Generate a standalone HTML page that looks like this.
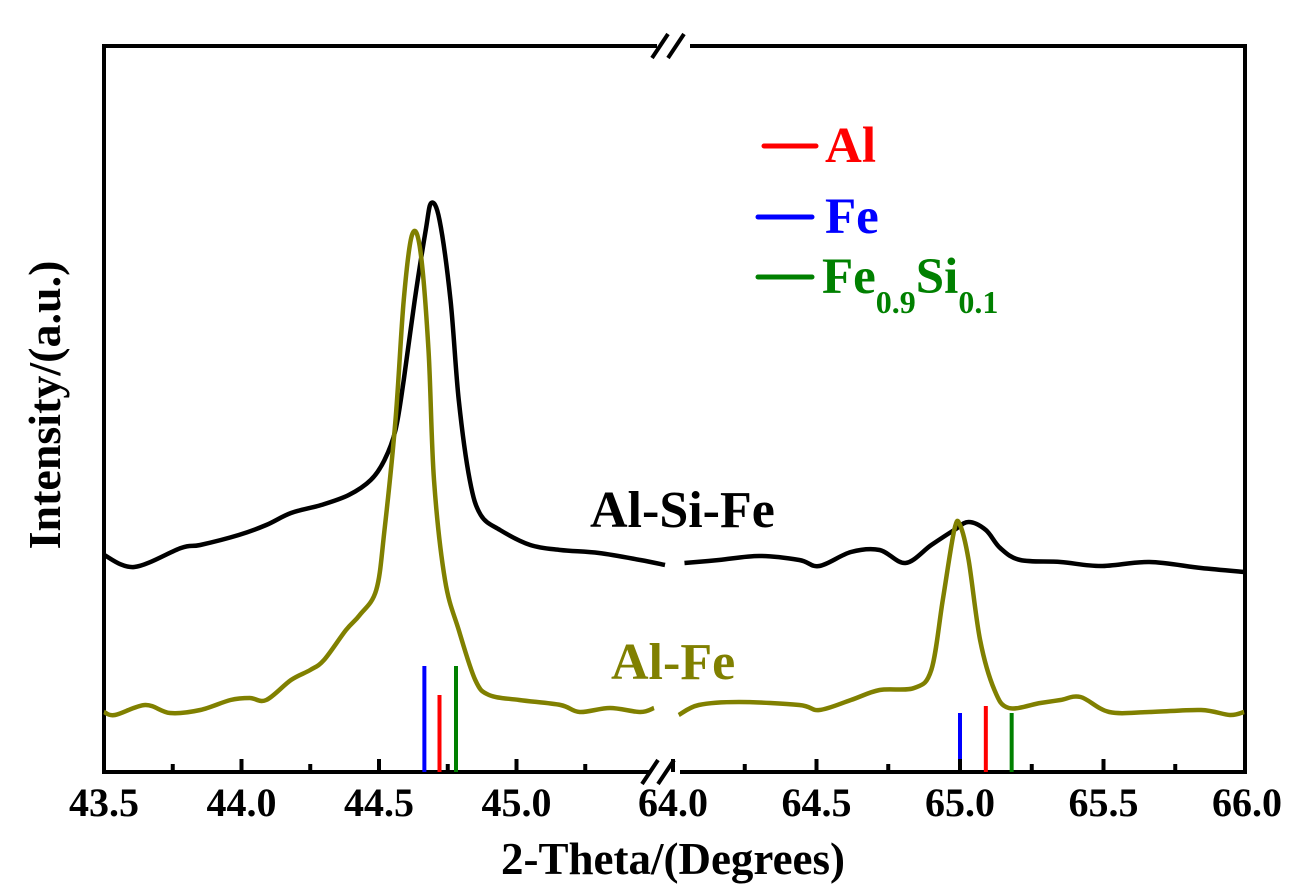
<!DOCTYPE html>
<html><head><meta charset="utf-8"><style>
html,body{margin:0;padding:0;background:#fff}
svg{display:block;font-family:"Liberation Serif",serif;font-weight:bold}
</style></head><body>
<svg id="chart" width="1304" height="885" viewBox="0 0 1304 885">
<g id="frame"></g>
<g id="curves"></g>
<g id="refs"></g>
<g id="axes"></g>
<g>
 <line x1="764" y1="146" x2="816" y2="146" stroke="#f00" stroke-width="5" stroke-linecap="round"/>
 <text x="825" y="162" font-size="51" fill="#f00">Al</text>
 <line x1="758" y1="217" x2="812" y2="217" stroke="#00f" stroke-width="5" stroke-linecap="round"/>
 <text x="825" y="233" font-size="51" fill="#00f">Fe</text>
 <line x1="758" y1="277" x2="812" y2="277" stroke="#008000" stroke-width="5" stroke-linecap="round"/>
 <text x="822" y="293" font-size="51" fill="#008000">Fe<tspan font-size="32" dy="20">0.9</tspan><tspan dy="-20">Si</tspan><tspan font-size="32" dy="20">0.1</tspan></text>
</g>
<text x="590" y="527" font-size="52" fill="#000">Al-Si-Fe</text>
<text x="611" y="679" font-size="52" fill="#808000">Al-Fe</text>
<text transform="translate(60,405) rotate(-90)" text-anchor="middle" font-size="46" fill="#000">Intensity/(a.u.)</text>
<text x="673" y="874" text-anchor="middle" font-size="45" fill="#000">2-Theta/(Degrees)</text>
</svg>
<script>
// Data (degrees, intensity a.u.)
const blackLeftX=[43.5,43.61,43.78,43.85,43.99,44.09,44.18,44.29,44.39,44.47,44.52,44.56,44.59,44.63,44.67,44.69,44.72,44.76,44.79,44.83,44.87,44.94,45.05,45.16,45.30,45.45,45.54];
const blackLeftY=[217,205,224,227,237,247,259,267,277,292,312,342,392,472,542,569,552,472,372,292,257,242,227,222,219,212,207];
const blackRightX=[64.04,64.16,64.30,64.44,64.51,64.62,64.72,64.81,64.90,64.98,65.03,65.09,65.14,65.21,65.35,65.49,65.66,65.84,65.99];
const blackRightY=[209,212,216,212,206,220,222,209,227,242,250,242,224,212,210,206,210,204,200];
const oliveLeftX=[43.5,43.54,43.65,43.74,43.85,43.96,44.03,44.09,44.18,44.25,44.30,44.38,44.43,44.49,44.52,44.56,44.59,44.62,44.65,44.68,44.70,44.74,44.79,44.85,44.90,45.01,45.16,45.23,45.34,45.45,45.50];
const oliveLeftY=[60,57,67,59,62,72,74,72,92,102,112,142,157,182,242,352,472,537,522,422,292,192,142,92,77,72,67,60,64,60,64];
const oliveRightX=[64.02,64.09,64.23,64.44,64.51,64.62,64.72,64.84,64.90,64.94,64.98,65.0,65.03,65.07,65.12,65.17,65.28,65.35,65.42,65.52,65.66,65.84,65.94,65.99];
const oliveRightY=[57,67,70,67,62,72,82,84,102,172,242,247,212,132,82,64,69,72,75,60,60,62,57,60];
const refLeftX=[44.665,44.72,44.78];
const refLeftH=[106,77,106];
const refRightX=[65.0,65.09,65.18];
const refRightH=[59,66,59];
const refColors=["#00f","#f00","#008000"];
const leftTicks=["43.5","44.0","44.5","45.0"];
const rightTicks=["64.0","64.5","65.0","65.5","66.0"];

const NS="http://www.w3.org/2000/svg";
const L=104,R=1245,T=46,B=772;
function xl(d){return 104+(d-43.5)*275;}
function xr(d){return 673+(d-64)*287;}
function yv(v){return B-v;}
function mk(tag,attrs,parent){const e=document.createElementNS(NS,tag);for(const k in attrs)e.setAttribute(k,attrs[k]);parent.appendChild(e);return e;}
function smooth(pts){
  let d="M"+pts[0][0]+","+pts[0][1];
  for(let i=0;i<pts.length-1;i++){
    const p0=pts[i-1]||pts[i],p1=pts[i],p2=pts[i+1],p3=pts[i+2]||p2;
    const c1=[p1[0]+(p2[0]-p0[0])/6,p1[1]+(p2[1]-p0[1])/6];
    const c2=[p2[0]-(p3[0]-p1[0])/6,p2[1]-(p3[1]-p1[1])/6];
    d+=" C"+c1[0]+","+c1[1]+" "+c2[0]+","+c2[1]+" "+p2[0]+","+p2[1];
  }
  return d;
}
const frame=document.getElementById('frame');
const f1=mk('path',{d:`M655,${T} H${L} V${B} H648 M682,${B} H${R} V${T} H692`,fill:'none',stroke:'#000','stroke-width':4,'stroke-linejoin':'miter','stroke-linecap':'square'},frame);


const br=mk('path',{d:`M652,58 L668,34 M668,58 L684,34 M642,784 L658,760 M658,784 L674,760`,stroke:'#000','stroke-width':4,fill:'none'},frame);



const curves=document.getElementById('curves');
function drawCurve(xs,ys,fx,color,name){
  const pts=xs.map((x,i)=>[fx(x),yv(ys[i])]);
  const p=mk('path',{d:smooth(pts),fill:'none',stroke:color,'stroke-width':4.5,'stroke-linejoin':'round'},curves);
  
  
}
drawCurve(blackLeftX,blackLeftY,xl,'#000','al-si-fe-left');
drawCurve(blackRightX,blackRightY,xr,'#000','al-si-fe-right');
drawCurve(oliveLeftX,oliveLeftY,xl,'#808000','al-fe-left');
drawCurve(oliveRightX,oliveRightY,xr,'#808000','al-fe-right');

const refs=document.getElementById('refs');
refLeftX.forEach((d,i)=>{const l=mk('line',{x1:xl(d),x2:xl(d),y1:B,y2:B-refLeftH[i],stroke:refColors[i],'stroke-width':4},refs);

});
refRightX.forEach((d,i)=>{const l=mk('line',{x1:xr(d),x2:xr(d),y1:B,y2:B-refRightH[i],stroke:refColors[i],'stroke-width':4},refs);

});

const axes=document.getElementById('axes');
function ticks(labels,fx,minorMax){
  labels.forEach((s,i)=>{const v=parseFloat(s);const x=fx(v);
    if(x>L+2&&x<R-2){const t=mk('line',{x1:x,x2:x,y1:B,y2:B-13,stroke:'#000','stroke-width':4},axes);
    
    }
    if(v+0.25<=minorMax){const xm=fx(v+0.25);const m=mk('line',{x1:xm,x2:xm,y1:B,y2:B-8,stroke:'#000','stroke-width':4},axes);
    
    }
    const tx=mk('text',{x:x,y:816,'text-anchor':'middle','font-size':40,fill:'#000'},axes);tx.textContent=s;
    
    
  });
}
ticks(leftTicks,xl,45.3);
ticks(rightTicks,xr,65.8);
</script>
</body></html>
